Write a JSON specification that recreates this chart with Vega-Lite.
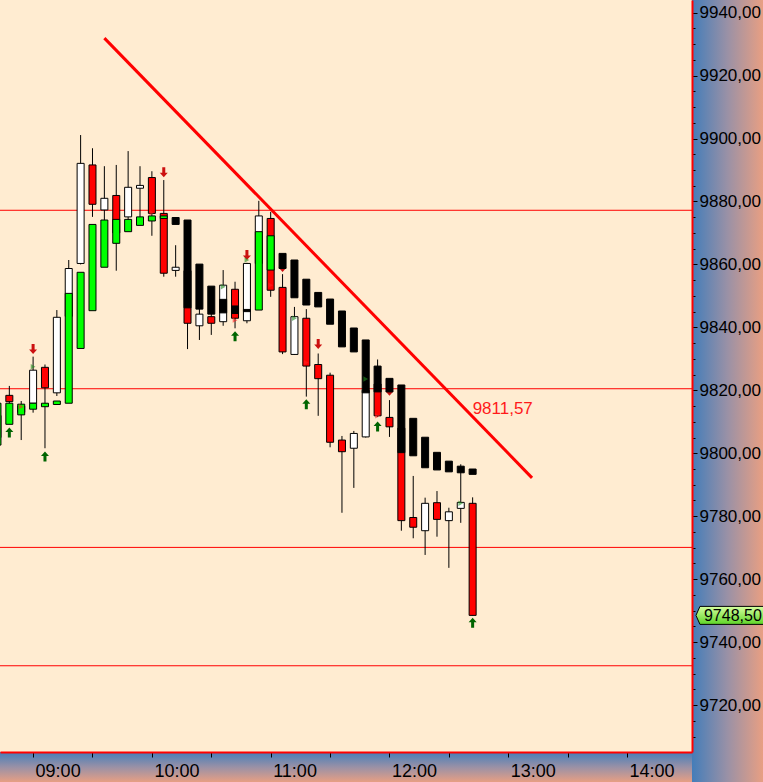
{
  "$schema": "https://vega.github.io/schema/vega-lite/v6.json",
  "width": 692,
  "height": 752,
  "autosize": {"type": "none"},
  "padding": {"left": 0, "top": 0, "right": 71, "bottom": 30},
  "background": "#9a8fa0",
  "config": {"view": {"fill": "#ffecd1", "stroke": null}, "font": "Liberation Sans"},
  "resolve": {"axis": {"x": "independent", "y": "independent"}},
  "datasets": {
    "candles": [
      {"t":"2024-01-15T08:42:00","o":9805,"h":9816,"l":9803,"c":9812,"hao":9802.6,"hac":9815.9},
      {"t":"2024-01-15T08:48:00","o":9818.4,"h":9821.4,"l":9810,"c":9816.4,"hao":9809.2,"hac":9815.9},
      {"t":"2024-01-15T08:54:00","o":9813,"h":9816.6,"l":9804.2,"c":9815,"hao":9812.2,"hac":9815.6},
      {"t":"2024-01-15T09:00:00","o":9815.9,"h":9830.7,"l":9812.9,"c":9826.4,"hao":9814.0,"hac":9815.9},
      {"t":"2024-01-15T09:06:00","o":9827.3,"h":9828.2,"l":9801.6,"c":9820.8,"hao":9814.8,"hac":9815.9},
      {"t":"2024-01-15T09:12:00","o":9819.2,"h":9845.5,"l":9818.2,"c":9843.2,"hao":9815.5,"hac":9816.6},
      {"t":"2024-01-15T09:18:00","o":9843.5,"h":9861.4,"l":9842,"c":9858.7,"hao":9815.9,"hac":9850.8},
      {"t":"2024-01-15T09:24:00","o":9860.3,"h":9901.1,"l":9860,"c":9892.1,"hao":9833.3,"hac":9857.5},
      {"t":"2024-01-15T09:30:00","o":9891.6,"h":9896.9,"l":9875.1,"c":9879.1,"hao":9845.3,"hac":9872.7},
      {"t":"2024-01-15T09:36:00","o":9877.3,"h":9891.2,"l":9873,"c":9881.0,"hao":9859.1,"hac":9874.1},
      {"t":"2024-01-15T09:42:00","o":9881.9,"h":9891.6,"l":9858.0,"c":9870,"hao":9866.7,"hac":9874.3},
      {"t":"2024-01-15T09:48:00","o":9875.1,"h":9896.0,"l":9873,"c":9884.5,"hao":9870.4,"hac":9874.3},
      {"t":"2024-01-15T09:54:00","o":9884.2,"h":9891.2,"l":9873,"c":9885.1,"hao":9872.4,"hac":9875.1},
      {"t":"2024-01-15T10:00:00","o":9887.6,"h":9889.6,"l":9869.1,"c":9876.2,"hao":9873.8,"hac":9875.4},
      {"t":"2024-01-15T10:06:00","o":9876.2,"h":9886.8,"l":9856.1,"c":9857.2,"hao":9874.6,"hac":9875.4},
      {"t":"2024-01-15T10:12:00","o":9858.1,"h":9866.1,"l":9856.1,"c":9859.1,"hao":9874.9,"hac":9872.7},
      {"t":"2024-01-15T10:18:00","o":9858,"h":9859,"l":9833.1,"c":9841.3,"hao":9874.1,"hac":9846.2},
      {"t":"2024-01-15T10:24:00","o":9840.5,"h":9848,"l":9836.0,"c":9844.2,"hao":9860.1,"hac":9845.8},
      {"t":"2024-01-15T10:30:00","o":9843.4,"h":9846,"l":9837.6,"c":9841.3,"hao":9853.1,"hac":9844.2},
      {"t":"2024-01-15T10:36:00","o":9841.8,"h":9858.2,"l":9840.5,"c":9853.4,"hao":9848.9,"hac":9844.6},
      {"t":"2024-01-15T10:42:00","o":9852.1,"h":9854.5,"l":9839.7,"c":9842.9,"hao":9846.8,"hac":9844.4},
      {"t":"2024-01-15T10:48:00","o":9842.1,"h":9860.5,"l":9841.3,"c":9860.3,"hao":9845.7,"hac":9845.0},
      {"t":"2024-01-15T10:54:00","o":9860.3,"h":9880.2,"l":9858,"c":9875.4,"hao":9845.5,"hac":9870.4},
      {"t":"2024-01-15T11:00:00","o":9874.6,"h":9876.7,"l":9849.7,"c":9851.8,"hao":9858.2,"hac":9869.1},
      {"t":"2024-01-15T11:06:00","o":9852.7,"h":9856.9,"l":9831.5,"c":9832.2,"hao":9863.5,"hac":9858.7},
      {"t":"2024-01-15T11:12:00","o":9831.4,"h":9846.5,"l":9831.3,"c":9843.4,"hao":9861.4,"hac":9849.4},
      {"t":"2024-01-15T11:18:00","o":9842.9,"h":9845.8,"l":9818.0,"c":9827.7,"hao":9855.3,"hac":9847.1},
      {"t":"2024-01-15T11:24:00","o":9828.2,"h":9831.7,"l":9811.9,"c":9823.7,"hao":9851.1,"hac":9846.5},
      {"t":"2024-01-15T11:30:00","o":9824.8,"h":9825.6,"l":9801.9,"c":9803.5,"hao":9849.0,"hac":9841.0},
      {"t":"2024-01-15T11:36:00","o":9804.2,"h":9805.5,"l":9781.1,"c":9800.5,"hao":9845.2,"hac":9833.8},
      {"t":"2024-01-15T11:42:00","o":9801.6,"h":9807.1,"l":9789.0,"c":9806.3,"hao":9839.8,"hac":9832.2},
      {"t":"2024-01-15T11:48:00","o":9805.2,"h":9822,"l":9805,"c":9820,"hao":9836.0,"hac":9819.2},
      {"t":"2024-01-15T11:54:00","o":9822,"h":9829.8,"l":9811.5,"c":9811.9,"hao":9827.7,"hac":9819.5},
      {"t":"2024-01-15T12:00:00","o":9811.4,"h":9816.9,"l":9805.2,"c":9808.4,"hao":9823.8,"hac":9819.5},
      {"t":"2024-01-15T12:06:00","o":9808,"h":9809,"l":9775.4,"c":9778.6,"hao":9821.7,"hac":9800.2},
      {"t":"2024-01-15T12:12:00","o":9779.6,"h":9792.8,"l":9773.0,"c":9776.5,"hao":9811.1,"hac":9799.2},
      {"t":"2024-01-15T12:18:00","o":9775.4,"h":9785.9,"l":9767.7,"c":9784.1,"hao":9805.1,"hac":9795.4},
      {"t":"2024-01-15T12:24:00","o":9784.3,"h":9788.0,"l":9773.5,"c":9779.0,"hao":9800.3,"hac":9794.7},
      {"t":"2024-01-15T12:30:00","o":9778.6,"h":9782.7,"l":9763.6,"c":9781.4,"hao":9797.5,"hac":9794.1},
      {"t":"2024-01-15T12:36:00","o":9782.5,"h":9796.5,"l":9777.9,"c":9784.4,"hao":9795.9,"hac":9793.8},
      {"t":"2024-01-15T12:42:00","o":9784.1,"h":9786.0,"l":9748.5,"c":9748.5,"hao":9795.0,"hac":9793.3}
    ],
    "arrows": [
      {"t":"2024-01-15T09:00:00","v":9833.1,"dir":"down"},
      {"t":"2024-01-15T10:06:00","v":9889.3,"dir":"down"},
      {"t":"2024-01-15T10:48:00","v":9863.0,"dir":"down"},
      {"t":"2024-01-15T11:06:00","v":9859.2,"dir":"down"},
      {"t":"2024-01-15T11:24:00","v":9834.7,"dir":"down"},
      {"t":"2024-01-15T12:00:00","v":9819.9,"dir":"down"},
      {"t":"2024-01-15T08:48:00","v":9806.6,"dir":"up"},
      {"t":"2024-01-15T09:06:00","v":9799.0,"dir":"up"},
      {"t":"2024-01-15T10:42:00","v":9837.2,"dir":"up"},
      {"t":"2024-01-15T11:18:00","v":9815.6,"dir":"up"},
      {"t":"2024-01-15T11:54:00","v":9808.5,"dir":"up"},
      {"t":"2024-01-15T12:42:00","v":9746.2,"dir":"up"}
    ],
    "signals": [
      {"t":"2024-01-15T08:42:00","v":9818.5,"col":"g"},
      {"t":"2024-01-15T09:00:00","v":9827.5,"col":"g"},
      {"t":"2024-01-15T10:36:00","v":9852.9,"col":"g"},
      {"t":"2024-01-15T10:48:00","v":9861.4,"col":"g"},
      {"t":"2024-01-15T11:12:00","v":9842.9,"col":"g"},
      {"t":"2024-01-15T11:48:00","v":9823.6,"col":"g"},
      {"t":"2024-01-15T12:36:00","v":9784.1,"col":"g"},
      {"t":"2024-01-15T08:54:00","v":9814.8,"col":"r"},
      {"t":"2024-01-15T10:00:00","v":9876.4,"col":"r"},
      {"t":"2024-01-15T10:42:00","v":9842.3,"col":"r"},
      {"t":"2024-01-15T11:00:00","v":9853.4,"col":"r"},
      {"t":"2024-01-15T11:18:00","v":9828.8,"col":"r"},
      {"t":"2024-01-15T11:54:00","v":9811.9,"col":"r"}
    ],
    "levels": [{"lv":9877.2},{"lv":9820.5},{"lv":9770.1},{"lv":9732.5}],
    "trend": [
      {"t":"2024-01-15T09:36:00","v":9931.9},
      {"t":"2024-01-15T13:12:00","v":9792.2}
    ],
    "trendlabel": [{"t":"2024-01-15T12:42:00","v":9811.57,"lbl":"9811,57"}],
    "last": [{"p":9748.5,"lbl":"9748,50"}]
  },
  "layer": [
    {
      "data": {"values": [{}]},
      "mark": {"type": "rect", "fill": {"gradient": "linear", "x1": 0, "y1": 0, "x2": 1, "y2": 0, "stops": [{"offset": 0, "color": "#447db9"}, {"offset": 0.5, "color": "#9a91a6"}, {"offset": 1, "color": "#e89f83"}]}},
      "encoding": {
        "x": {"datum": {"year":2024,"month":1,"date":15,"hours":14,"minutes":32,"seconds":48}, "type": "temporal", "scale": {"padding": 0}, "axis": null},
        "x2": {"datum": {"year":2024,"month":1,"date":15,"hours":15,"minutes":8,"seconds":40}},
        "y": {"datum": 9944.0, "type": "quantitative", "axis": null},
        "y2": {"datum": 9695.5}
      }
    },
    {
      "data": {"values": [{}]},
      "mark": {"type": "rect", "fill": {"gradient": "linear", "x1": 0, "y1": 0, "x2": 0, "y2": 1, "stops": [{"offset": 0, "color": "#447db9"}, {"offset": 0.5, "color": "#9a91a6"}, {"offset": 1, "color": "#e89f83"}]}},
      "encoding": {
        "x": {"datum": {"year":2024,"month":1,"date":15,"hours":8,"minutes":30}, "type": "temporal", "axis": null},
        "x2": {"datum": {"year":2024,"month":1,"date":15,"hours":14,"minutes":32,"seconds":48}},
        "y": {"datum": 9705.1, "type": "quantitative", "axis": null},
        "y2": {"datum": 9695.5}
      }
    },
    {
      "data": {"name": "levels"},
      "mark": {"type": "rule", "stroke": "#ff0000", "strokeWidth": 1},
      "encoding": {
        "y": {
          "field": "lv", "type": "quantitative",
          "scale": {"domain": [9705.1, 9944.0], "nice": false, "zero": false},
          "axis": {
            "title": null, "orient": "right", "zindex": 1,
            "values": [9710,9715,9720,9725,9730,9735,9740,9745,9750,9755,9760,9765,9770,9775,9780,9785,9790,9795,9800,9805,9810,9815,9820,9825,9830,9835,9840,9845,9850,9855,9860,9865,9870,9875,9880,9885,9890,9895,9900,9905,9910,9915,9920,9925,9930,9935,9940],
            "labels": false, "domain": false, "grid": false,
            "tickColor": "#000000", "tickSize": 3, "tickWidth": 1
          }
        }
      }
    },
    {
      "data": {"name": "candles"},
      "mark": {"type": "rule", "stroke": "#000000", "strokeWidth": 1},
      "encoding": {
        "x": {
          "field": "t", "type": "temporal",
          "scale": {"domain": [{"year":2024,"month":1,"date":15,"hours":8,"minutes":43,"seconds":17},{"year":2024,"month":1,"date":15,"hours":14,"minutes":32,"seconds":48}], "padding": 0},
          "axis": {
            "title": null, "zindex": 1, "orient": "bottom",
            "values": [
              {"year":2024,"month":1,"date":15,"hours":9,"minutes":0},
              {"year":2024,"month":1,"date":15,"hours":9,"minutes":30},
              {"year":2024,"month":1,"date":15,"hours":10,"minutes":0},
              {"year":2024,"month":1,"date":15,"hours":10,"minutes":30},
              {"year":2024,"month":1,"date":15,"hours":11,"minutes":0},
              {"year":2024,"month":1,"date":15,"hours":11,"minutes":30},
              {"year":2024,"month":1,"date":15,"hours":12,"minutes":0},
              {"year":2024,"month":1,"date":15,"hours":12,"minutes":30},
              {"year":2024,"month":1,"date":15,"hours":13,"minutes":0},
              {"year":2024,"month":1,"date":15,"hours":13,"minutes":30},
              {"year":2024,"month":1,"date":15,"hours":14,"minutes":0}
            ],
            "labelExpr": "minutes(datum.value) === 0 ? timeFormat(datum.value, '%H:%M') : ''",
            "grid": false,
            "domainColor": "#ff0000", "domainWidth": 2,
            "tickColor": "#000000", "tickSize": 5, "tickWidth": 1,
            "labelAlign": "left", "labelOffset": 2, "labelPadding": 5,
            "labelFont": "Liberation Sans",
            "labelFontSize": 18, "labelColor": "#000000",
            "labelOverlap": false, "labelFlush": false, "labelBound": false
          }
        },
        "y": {
          "field": "l", "type": "quantitative",
          "scale": {"domain": [9705.1, 9944.0], "nice": false, "zero": false},
          "axis": {
            "title": null, "orient": "right", "zindex": 1,
            "values": [9720,9740,9760,9780,9800,9820,9840,9860,9880,9900,9920,9940],
            "labelExpr": "replace(format(datum.value, '.2f'), '.', ',')",
            "grid": false,
            "domainColor": "#ff0000", "domainWidth": 2,
            "tickColor": "#000000", "tickWidth": 1, "tickSize": 5,
            "labelPadding": 2,
            "labelFont": "Liberation Sans", "labelFontSize": 17, "labelColor": "#000000",
            "labelOverlap": false, "labelFlush": false, "labelBound": false
          }
        },
        "y2": {"field": "h"}
      }
    },
    {
      "data": {"name": "candles"},
      "mark": {"type": "bar", "size": 7, "stroke": "#000000", "strokeWidth": 1},
      "encoding": {
        "x": {"field": "t", "type": "temporal", "axis": null},
        "y": {"field": "o", "type": "quantitative", "axis": null},
        "y2": {"field": "c"},
        "fill": {"condition": {"test": "datum.c >= datum.o", "value": "#ffffff"}, "value": "#ff0000"}
      }
    },
    {
      "data": {"name": "arrows"},
      "mark": {"type": "point", "filled": true, "opacity": 1, "size": 100, "strokeWidth": 0},
      "encoding": {
        "x": {"field": "t", "type": "temporal", "axis": null},
        "y": {"field": "v", "type": "quantitative", "axis": null},
        "shape": {"condition": {"test": "datum.dir === 'down'", "value": "M-0.3,-1L0.3,-1L0.3,0.1L0.8,0.1L0,1L-0.8,0.1L-0.3,0.1Z"}, "value": "M-0.3,1L0.3,1L0.3,-0.1L0.8,-0.1L0,-1L-0.8,-0.1L-0.3,-0.1Z"},
        "fill": {"condition": {"test": "datum.dir === 'down'", "value": "#cc1010"}, "value": "#006400"}
      }
    },
    {
      "data": {"name": "candles"},
      "mark": {"type": "bar", "size": 7, "stroke": "#000000", "strokeWidth": 1},
      "encoding": {
        "x": {"field": "t", "type": "temporal", "axis": null},
        "y": {"field": "hao", "type": "quantitative", "axis": null},
        "y2": {"field": "hac"},
        "fill": {"condition": {"test": "datum.hac >= datum.hao", "value": "#00ff00"}, "value": "#000000"}
      }
    },
    {
      "data": {"name": "signals"},
      "mark": {"type": "point", "shape": "triangle-right", "filled": true, "size": 30, "opacity": 0.6, "strokeWidth": 0, "dx": 5.5},
      "encoding": {
        "x": {"field": "t", "type": "temporal", "axis": null},
        "y": {"field": "v", "type": "quantitative", "axis": null},
        "fill": {"condition": {"test": "datum.col === 'g'", "value": "#1f8a1f"}, "value": "#ff2020"}
      }
    },
    {
      "data": {"name": "trend"},
      "mark": {"type": "line", "stroke": "#ff0000", "strokeWidth": 3},
      "encoding": {
        "x": {"field": "t", "type": "temporal", "axis": null},
        "y": {"field": "v", "type": "quantitative", "axis": null}
      }
    },
    {
      "data": {"name": "trendlabel"},
      "mark": {"type": "text", "align": "left", "baseline": "alphabetic", "dy": -3, "fontSize": 17, "font": "Liberation Sans", "fill": "#ff1a1a"},
      "encoding": {
        "x": {"field": "t", "type": "temporal", "axis": null},
        "y": {"field": "v", "type": "quantitative", "axis": null},
        "text": {"field": "lbl"}
      }
    },
    {
      "data": {"name": "last"},
      "mark": {
        "type": "point", "filled": true, "opacity": 1, "size": 6400,
        "shape": "M-1,0L-0.9,-0.225L1,-0.225L1,0.225L-0.9,0.225Z",
        "fill": {"gradient": "linear", "x1": 0, "y1": 0, "x2": 0, "y2": 1, "stops": [{"offset": 0, "color": "#d6ffa0"}, {"offset": 1, "color": "#5ed428"}]},
        "stroke": "#000000", "strokeWidth": 1
      },
      "encoding": {
        "x": {"datum": {"year":2024,"month":1,"date":15,"hours":14,"minutes":55}, "type": "temporal", "axis": null},
        "y": {"field": "p", "type": "quantitative", "axis": null}
      }
    },
    {
      "data": {"name": "last"},
      "mark": {"type": "text", "align": "left", "baseline": "middle", "dx": -32, "dy": 1, "fontSize": 16, "font": "Liberation Sans", "fill": "#000000"},
      "encoding": {
        "x": {"datum": {"year":2024,"month":1,"date":15,"hours":14,"minutes":55}, "type": "temporal", "axis": null},
        "y": {"field": "p", "type": "quantitative", "axis": null},
        "text": {"field": "lbl"}
      }
    }
  ]
}
